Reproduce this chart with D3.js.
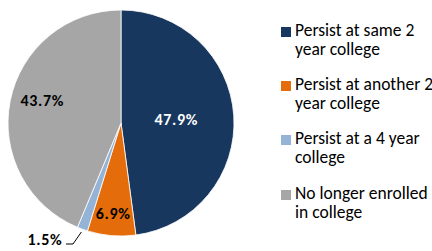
<!DOCTYPE html>
<html>
<head>
<meta charset="utf-8">
<script src="https://cdn.jsdelivr.net/npm/d3@7"></script>
<style>
  body { margin: 0; background: #fff; }
  svg text { font-family: "Carlito", "Liberation Sans", "DejaVu Sans", sans-serif; }
</style>
</head>
<body>
<svg id="chart" width="432" height="251"></svg>
<script>
// 数据
var categories = ["Persist at same 2 year college", "Persist at another 2 year college",
                  "Persist at a 4 year college", "No longer enrolled in college"];
var legendLines = [["Persist at same 2", "year college"],
                   ["Persist at another 2", "year college"],
                   ["Persist at a 4 year", "college"],
                   ["No longer enrolled", "in college"]];
var values = [47.9, 6.9, 1.5, 43.7];
var colors = ["#17375E", "#E46C0A", "#95B3D7", "#A6A6A6"];
var labelColors = ["#fff", "#000", "#000", "#000"];

var svg = d3.select("#chart");
var cx = 121, cy = 123, r = 113;

var pie = d3.pie().sort(null).value(function(d) { return d; });
var arc = d3.arc().innerRadius(0).outerRadius(r);
var arcs = pie(values);

var g = svg.append("g").attr("transform", "translate(" + cx + "," + cy + ")");

g.selectAll("path.slice")
    .data(arcs)
    .enter().append("path")
    .attr("class", "slice")
    .attr("d", arc)
    .attr("fill", function(d, i) { return colors[i]; })
    .attr("stroke", "#fff")
    .attr("stroke-width", 0.8);

// 标签位置（按半径比例 + 竖直微调）
var labelR = [0.49, 0.82, 1.12, 0.71];
var labelDy = [0, -2, 0, -7];
var labels = g.selectAll("text.lbl")
    .data(arcs)
    .enter().append("text")
    .attr("class", "lbl")
    .attr("transform", function(d, i) {
        var a = (d.startAngle + d.endAngle) / 2;
        var rr = r * labelR[i];
        var x = Math.sin(a) * rr, y = -Math.cos(a) * rr + labelDy[i];
        if (i === 2) { x = -76; y = 116; }
        return "translate(" + x + "," + y + ")";
    })
    .attr("text-anchor", "middle")
    .attr("dy", "0.35em")
    .attr("font-size", 16)
    .attr("font-weight", "bold")
    .attr("fill", function(d, i) { return labelColors[i]; })
    .text(function(d) { return d.data.toFixed(1) + "%"; });

// 字距：让 "47.9%" 约 43px 宽
var lw = labels.node().getComputedTextLength();
labels.attr("letter-spacing", Math.max(0, (43 - lw) / 4));

// 1.5% 引导线
var small = arcs[2];
var ma = (small.startAngle + small.endAngle) / 2;
var px = Math.sin(ma) * (r + 3), py = -Math.cos(ma) * (r + 3);
g.append("path")
    .attr("d", "M" + (-55) + "," + 121 + "L" + (-48) + "," + 121 + "L" + px + "," + py)
    .attr("fill", "none")
    .attr("stroke", "#000")
    .attr("stroke-width", 1);

// 图例
var legend = svg.append("g").attr("transform", "translate(281,0)");
var itemY = [36, 90, 144, 199];
var item = legend.selectAll("g.item")
    .data(categories)
    .enter().append("g")
    .attr("class", "item")
    .attr("transform", function(d, i) { return "translate(0," + itemY[i] + ")"; });

item.append("rect")
    .attr("x", 0).attr("y", -9)
    .attr("width", 10).attr("height", 10)
    .attr("fill", function(d, i) { return colors[i]; });

var ltext = item.append("text")
    .attr("font-size", 17.5)
    .attr("fill", "#000");
ltext.selectAll("tspan")
    .data(function(d, i) { return legendLines[i]; })
    .enter().append("tspan")
    .attr("x", 14)
    .attr("y", function(d, j) { return j * 18.5; })
    .text(function(d) { return d; });

// 字距：让 "Persist at same 2" 约 115px 宽
var first = ltext.select("tspan").node();
var fw = first.getComputedTextLength();
ltext.attr("letter-spacing", Math.max(0, Math.min(1, (115 - fw) / 16)));
</script>
</body>
</html>
